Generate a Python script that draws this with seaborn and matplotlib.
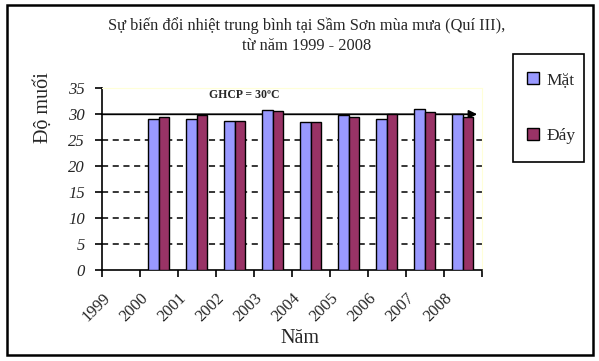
import numpy as np
import pandas as pd
import matplotlib
matplotlib.use("Agg")
import matplotlib.pyplot as plt
from matplotlib.patches import Rectangle, Patch
import seaborn as sns

# ---- data ----
years = ["1999", "2000", "2001", "2002", "2003", "2004", "2005", "2006", "2007", "2008"]
mat = [np.nan, 29.0, 29.0, 28.7, 30.8, 28.5, 29.8, 29.0, 31.0, 30.0]
day = [np.nan, 29.4, 29.9, 28.8, 30.6, 28.5, 29.4, 30.0, 30.4, 29.4]
series = ["Mặt", "Đáy"]
colors = ["#9999FF", "#993366"]
yticks = [0, 5, 10, 15, 20, 25, 30, 35]
ghcp = 30
title = "Sự biến đổi nhiệt trung bình tại Sầm Sơn mùa mưa (Quí III),\ntừ năm 1999 - 2008"

df = pd.DataFrame({
    "Năm": years * 2,
    "Giá trị": mat + day,
    "Tầng": [series[0]] * len(years) + [series[1]] * len(years),
})

sns.set_style("white")
plt.rcParams["font.family"] = ["Liberation Serif", "DejaVu Serif"]

fig = plt.figure(figsize=(5.99, 3.61), dpi=100)
ax = fig.add_axes([0.1698, 0.2512, 0.6344, 0.5043])

sns.barplot(data=df, x="Năm", y="Giá trị", hue="Tầng", order=years,
            hue_order=series, palette=colors, width=0.55, edgecolor="black",
            linewidth=1.0, errorbar=None, legend=False, ax=ax, zorder=3,
            saturation=1)

ax.set_xlim(-0.5, len(years) - 0.5)
ax.set_ylim(yticks[0], yticks[-1])

# dashed gridlines
for y in yticks[1:-2]:
    ax.axhline(y, color="black", lw=1.1, ls=(0, (4, 3)), zorder=1)

# GHCP reference line with arrow
ax.annotate("", xy=(9.38, ghcp), xytext=(-0.5, ghcp),
            arrowprops=dict(arrowstyle="-|>", color="black", lw=1.3,
                            mutation_scale=12, shrinkA=0, shrinkB=0),
            zorder=2)
ax.text(3.25, 33.7, "GHCP = 30ºC", fontweight="bold", fontsize=8.5,
        ha="center", va="center")

# spines
for s in ["left", "bottom"]:
    ax.spines[s].set_color("black")
    ax.spines[s].set_linewidth(1.2)
for s in ["top", "right"]:
    ax.spines[s].set_color("#FFFFD8")
    ax.spines[s].set_linewidth(0.8)

# y ticks
ax.set_yticks(yticks)
ax.set_yticklabels([str(v) for v in yticks], fontstyle="italic", fontsize=12)
ax.tick_params(axis="y", direction="out", length=5, width=1.2, color="black",
               pad=7, left=True)

# x ticks: marks at category boundaries, labels offset
pos = np.arange(len(years))
ax.set_xticks(pos - 0.5 + 0.31)
ax.set_xticklabels(years, rotation=45, ha="right", va="top", fontsize=12)
ax.tick_params(axis="x", which="major", length=0, pad=14)
ax.set_xticks(np.arange(len(years) + 1) - 0.5, minor=True)
ax.tick_params(axis="x", which="minor", direction="out", length=5, width=1.2,
               color="black", bottom=True)

ax.set_xlabel("Năm", fontsize=14.5)
ax.xaxis.set_label_coords(0.522, -0.372)
ax.xaxis.label.set_va("center")
ax.set_ylabel("Độ muối", fontsize=14.5)
ax.yaxis.set_label_coords(-0.154, 0.892)
ax.yaxis.label.set_va("center")

# title
fig.text(0.512, 0.9017, title, ha="center", va="center", fontsize=11.8,
         linespacing=1.35)

# legend
handles = [Patch(facecolor=c, edgecolor="black", linewidth=1.0) for c in colors]
fig.legend(handles, series, loc="center", bbox_to_anchor=(0.9207, 0.7008),
           frameon=False, fontsize=12.5, labelspacing=2.3, handlelength=0.7,
           handleheight=0.7, handletextpad=0.45, borderpad=0)
fig.add_artist(Rectangle((513 / 599, 1 - 162 / 361), 71 / 599, 108 / 361,
                         transform=fig.transFigure, fill=False,
                         edgecolor="black", lw=1.2))
# outer frame
fig.add_artist(Rectangle((6.5 / 599, 1 - 354.5 / 361), 586 / 599, 349.5 / 361,
                         transform=fig.transFigure, fill=False,
                         edgecolor="black", lw=1.8))

fig.savefig("out.png", dpi=100)
